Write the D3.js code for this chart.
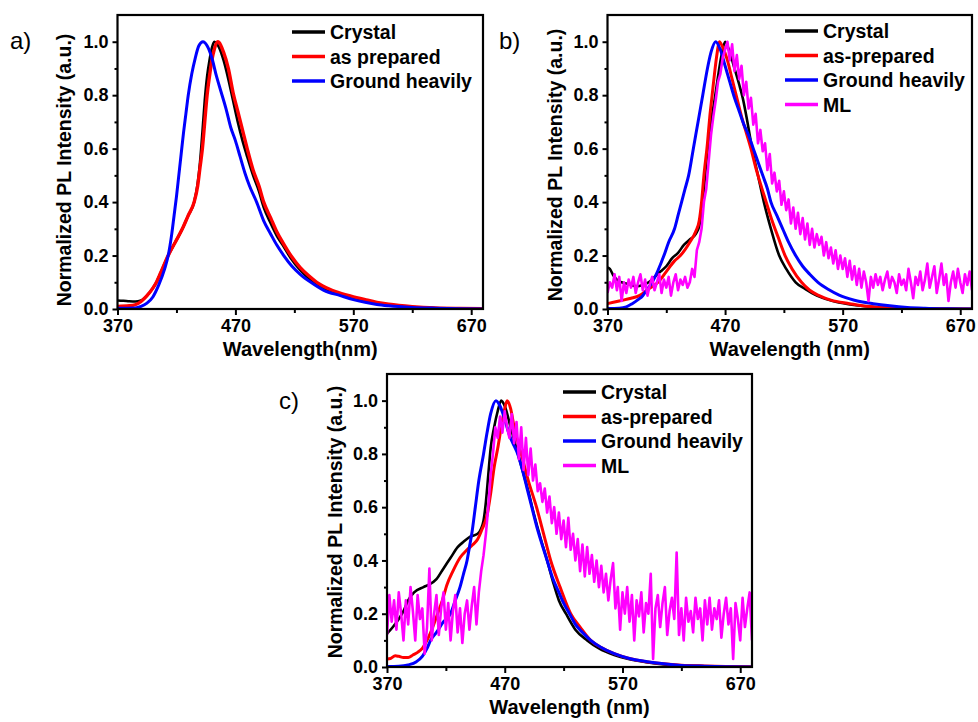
<!DOCTYPE html>
<html>
<head>
<meta charset="utf-8">
<script src="https://cdn.jsdelivr.net/npm/d3@7"></script>
<style>
  html, body { margin: 0; padding: 0; background: #fff; }
  svg { display: block; }
  text { font-family: "Liberation Sans", Arial, sans-serif; }
</style>
</head>
<body>
<svg id="chart" width="978" height="722"></svg>
<script>
// ---------- tick labels ----------
const xTickValues = [370, 470, 570, 670];
const xMinorValues = [420, 520, 620];
const yTickValues = [0.0, 0.2, 0.4, 0.6, 0.8, 1.0];
const yMinorValues = [0.1, 0.3, 0.5, 0.7, 0.9];
const xDomain = [370, 680];
const yDomain = [0, 1.1];

const seriesColors = { crystal: "#000000", prepared: "#ff0000", ground: "#0000ff", ml: "#ff00ff" };

// ---------- panel a ----------
const aCrystalX = [370,375,380,385,390,395,400,403,408,413,419,425,430,435,438,440,442,444,446,448,450,452,456,460,464,468,472,476,480,485,490,494,500,505,510,517,525,532,539,550,560,568,580,590,600,620,640,660,680];
const aCrystalY = [0.032,0.031,0.029,0.028,0.032,0.05,0.078,0.1,0.15,0.2,0.25,0.3,0.35,0.4,0.47,0.55,0.66,0.78,0.87,0.93,0.975,1.0,0.98,0.93,0.86,0.78,0.7,0.63,0.57,0.5,0.44,0.38,0.32,0.275,0.24,0.19,0.145,0.115,0.092,0.067,0.051,0.041,0.03,0.021,0.015,0.007,0.003,0.001,0.0];
const aPreparedX = [370,380,385,390,395,400,403,408,413,419,425,430,435,438,440,442,444,446,448,450,452,455,460,464,468,472,476,480,485,490,494,500,505,510,517,525,532,539,550,560,568,580,590,600,620,640,660,680];
const aPreparedY = [0.01,0.012,0.016,0.028,0.05,0.078,0.1,0.15,0.2,0.25,0.3,0.35,0.4,0.46,0.53,0.6,0.7,0.8,0.87,0.93,0.97,1.0,0.96,0.9,0.81,0.74,0.67,0.6,0.52,0.46,0.4,0.34,0.29,0.25,0.2,0.155,0.125,0.1,0.074,0.058,0.048,0.035,0.025,0.018,0.009,0.004,0.002,0.001];
const aGroundX = [370,385,390,395,400,405,410,413,416,418,420,422,424,426,428,430,433,436,439,442.5,446,450,454,458,462,466,470,474,478,482,488,494,500,505,511,518,525,534,545,559,570,580,590,600,620,640,660,680];
const aGroundY = [0.003,0.004,0.01,0.022,0.045,0.09,0.15,0.2,0.28,0.35,0.42,0.5,0.58,0.66,0.73,0.8,0.88,0.94,0.985,1.0,0.985,0.94,0.87,0.81,0.75,0.68,0.63,0.57,0.51,0.46,0.4,0.33,0.28,0.24,0.2,0.16,0.13,0.1,0.07,0.05,0.035,0.025,0.017,0.012,0.006,0.003,0.001,0.0];

// ---------- panel b ----------
const bCrystalX = [370,372,375,378,382,386,390,395,400,405,410,415,420,425,430,435,440,445,448,450,452,454,456,458,461,464,467,470,474,478,482,485,489,493,498,503,509,516,522,530,538,548,560,575,590,605,625,650,680];
const bCrystalY = [0.155,0.15,0.125,0.11,0.1,0.095,0.09,0.085,0.09,0.1,0.12,0.14,0.16,0.19,0.21,0.24,0.26,0.28,0.31,0.36,0.45,0.55,0.63,0.7,0.78,0.87,0.95,1.0,0.96,0.9,0.84,0.79,0.7,0.6,0.5,0.4,0.3,0.2,0.15,0.1,0.075,0.05,0.032,0.018,0.01,0.005,0.002,0.001,0.0];
const bPreparedX = [370,380,390,397,405,413,420,427,432,440,445,448,450,452,455,457,459,461,463,465,468,472,476,480,484,488,492,496,500,505,510,515,521,527,535,542,550,560,576,590,605,624,650,680];
const bPreparedY = [0.02,0.03,0.04,0.05,0.075,0.1,0.14,0.18,0.2,0.25,0.29,0.33,0.4,0.5,0.62,0.72,0.8,0.88,0.95,1.0,0.98,0.93,0.86,0.79,0.72,0.66,0.6,0.53,0.47,0.4,0.33,0.27,0.2,0.15,0.1,0.07,0.05,0.033,0.02,0.01,0.005,0.002,0.001,0.0];
const bGroundX = [370,380,386,391,396,400,404,408,413,418,422,427,430,433,436,439,443,447,451,455,458,462,466,470,474,478,482,486,490,494,498,502,506,509,514,519,524,530,536,542,549,558,567,580,596,610,625,640,660,680];
const bGroundY = [0.002,0.003,0.008,0.02,0.035,0.05,0.075,0.1,0.145,0.2,0.25,0.3,0.35,0.4,0.45,0.5,0.6,0.7,0.8,0.9,0.96,1.0,0.97,0.91,0.85,0.79,0.74,0.69,0.65,0.6,0.55,0.5,0.45,0.4,0.35,0.3,0.25,0.2,0.16,0.13,0.1,0.073,0.052,0.033,0.02,0.012,0.006,0.003,0.001,0.0];
// ML, sampled every 2 nm from 370 nm to 680 nm (10 values per row)
const bML = [
  0.06,0.1,0.08,0.13,0.07,0.12,0.03,0.1,0.06,0.11,   // 370-388
  0.08,0.12,0.06,0.1,0.13,0.07,0.11,0.05,0.09,0.12,  // 390-408
  0.07,0.1,0.13,0.06,0.11,0.08,0.12,0.05,0.1,0.13,   // 410-428
  0.07,0.11,0.09,0.12,0.08,0.1,0.15,0.12,0.22,0.25,  // 430-448
  0.3,0.4,0.45,0.55,0.65,0.72,0.78,0.85,0.88,0.94,   // 450-468
  0.97,1.0,0.93,0.99,0.89,0.95,0.86,0.91,0.8,0.85,   // 470-488
  0.75,0.79,0.69,0.73,0.62,0.67,0.59,0.62,0.52,0.58, // 490-508
  0.47,0.51,0.44,0.48,0.39,0.44,0.37,0.41,0.32,0.38, // 510-528
  0.3,0.36,0.28,0.34,0.26,0.32,0.24,0.3,0.23,0.28,   // 530-548
  0.24,0.27,0.2,0.25,0.19,0.23,0.17,0.22,0.15,0.2,   // 550-568
  0.15,0.19,0.12,0.18,0.11,0.16,0.09,0.15,0.08,0.14, // 570-588
  0.1,0.03,0.12,0.08,0.13,0.09,0.12,0.07,0.11,0.14,  // 590-608
  0.08,0.12,0.1,0.06,0.13,0.09,0.11,0.07,0.15,0.1,   // 610-628
  0.04,0.12,0.09,0.14,0.07,0.11,0.17,0.08,0.12,0.16, // 630-648
  0.06,0.11,0.17,0.09,0.13,0.03,0.1,0.14,0.08,0.15,  // 650-668
  0.1,0.06,0.13,0.09,0.14,0.07                       // 670-680
];

// ---------- panel c ----------
const cCrystalX = [370,375,380,384,388,393,401,406,412,418,424,430,435,441,447,450,452,454,456,458,461,464,467,470,475,480,485,490,495,500,506,511,516,522,530,540,550,563,575,590,605,620,640,660,680];
const cCrystalY = [0.125,0.15,0.18,0.21,0.25,0.28,0.3,0.31,0.33,0.37,0.41,0.45,0.47,0.49,0.5,0.52,0.55,0.62,0.72,0.82,0.9,0.96,1.0,0.98,0.9,0.82,0.74,0.66,0.57,0.49,0.4,0.32,0.25,0.2,0.14,0.1,0.07,0.045,0.03,0.018,0.01,0.006,0.003,0.001,0.0];
const cPreparedX = [370,373,377,380,384,388,392,396,400,404,408,413,417,421,426,432,438,443,447,451,455,458,461,464,467,470,472,475,478,484,490,497,503,509,517,526,534,543,552,563,575,590,605,620,640,660,680];
const cPreparedY = [0.03,0.032,0.042,0.04,0.036,0.036,0.045,0.055,0.07,0.1,0.14,0.2,0.25,0.31,0.36,0.41,0.44,0.46,0.48,0.52,0.57,0.65,0.75,0.82,0.9,0.97,1.0,0.97,0.9,0.8,0.7,0.6,0.5,0.4,0.3,0.2,0.15,0.1,0.073,0.05,0.033,0.02,0.012,0.007,0.004,0.002,0.001];
const cGroundX = [370,380,388,395,400,404,407,412,418,424,428,432,435,438,440,442,445,448,452,455,458,462.5,466,470,474,478,481,485,489,493,497,501,506,511,516,520,525,530,536,543,552,563,575,591,605,620,640,660,680];
const cGroundY = [0.002,0.003,0.008,0.02,0.04,0.07,0.1,0.13,0.17,0.2,0.25,0.3,0.35,0.4,0.45,0.5,0.6,0.7,0.8,0.88,0.95,1.0,0.98,0.93,0.87,0.83,0.8,0.74,0.67,0.6,0.53,0.47,0.4,0.33,0.28,0.24,0.2,0.16,0.13,0.1,0.073,0.05,0.033,0.02,0.012,0.006,0.003,0.001,0.0];
// ML, sampled every 2 nm from 370 nm to 680 nm (10 values per row)
const cML = [
  0.12,0.27,0.17,0.25,0.14,0.28,0.2,0.1,0.25,0.16,   // 370-388
  0.3,0.21,0.1,0.27,0.18,0.22,0.05,0.15,0.37,0.1,    // 390-408
  0.2,0.27,0.12,0.22,0.28,0.14,0.24,0.1,0.21,0.27,   // 410-428
  0.13,0.22,0.09,0.2,0.25,0.14,0.23,0.3,0.16,0.28,   // 430-448
  0.36,0.42,0.5,0.6,0.72,0.8,0.9,0.86,0.94,0.88,     // 450-468
  0.96,0.9,0.86,0.95,0.84,0.92,0.78,0.9,0.74,0.86,   // 470-488
  0.72,0.82,0.7,0.76,0.66,0.69,0.62,0.67,0.58,0.64,  // 490-508
  0.54,0.6,0.5,0.58,0.48,0.55,0.45,0.56,0.44,0.5,    // 510-528
  0.4,0.48,0.36,0.46,0.34,0.45,0.35,0.42,0.32,0.4,   // 530-548
  0.3,0.38,0.28,0.35,0.25,0.33,0.39,0.22,0.3,0.14,   // 550-568
  0.28,0.2,0.3,0.17,0.27,0.1,0.25,0.19,0.28,0.13,    // 570-588
  0.24,0.2,0.35,0.03,0.22,0.27,0.15,0.24,0.3,0.12,   // 590-608
  0.21,0.26,0.18,0.43,0.12,0.22,0.1,0.26,0.17,0.21,  // 610-628
  0.13,0.26,0.18,0.22,0.1,0.25,0.16,0.26,0.14,0.22,  // 630-648
  0.18,0.25,0.11,0.2,0.26,0.16,0.22,0.03,0.24,0.18,  // 650-668
  0.1,0.26,0.15,0.22,0.28,0.1                        // 670-680
];
const mlStart = 370, mlStep = 2;

// ---------- drawing ----------
const svg = d3.select("#chart");

function zip(xs, ys) { return xs.map((x, i) => [x, ys[i]]); }
function mlPoints(vals) { return vals.map((v, i) => [mlStart + i * mlStep, v]); }

const panels = [
  { id: "a", label: "a)", lx: 10, ly: 49, box: { l: 117.5, r: 483, t: 15, b: 309 },
    xTitle: "Wavelength(nm)", yTitleCx: 64, yTitleCy: 170,
    legend: ["Crystal", "as prepared", "Ground heavily"],
    legX: 292, legY: 32, legDy: 24.5,
    series: [
      { key: "crystal", pts: zip(aCrystalX, aCrystalY), w: 2.6 },
      { key: "prepared", pts: zip(aPreparedX, aPreparedY), w: 3.4 },
      { key: "ground", pts: zip(aGroundX, aGroundY), w: 3 }
    ] },
  { id: "b", label: "b)", lx: 499, ly: 49, box: { l: 607.5, r: 972, t: 15, b: 309 },
    xTitle: "Wavelength (nm)", yTitleCx: 555, yTitleCy: 165,
    legend: ["Crystal", "as-prepared", "Ground heavily", "ML"],
    legX: 785, legY: 31, legDy: 24.5,
    series: [
      { key: "crystal", pts: zip(bCrystalX, bCrystalY), w: 2.6 },
      { key: "prepared", pts: zip(bPreparedX, bPreparedY), w: 3 },
      { key: "ground", pts: zip(bGroundX, bGroundY), w: 3 },
      { key: "ml", pts: mlPoints(bML), w: 2.6, raw: true }
    ] },
  { id: "c", label: "c)", lx: 279, ly: 409, box: { l: 387, r: 752, t: 374, b: 667 },
    xTitle: "Wavelength (nm)", yTitleCx: 335, yTitleCy: 522,
    legend: ["Crystal", "as-prepared", "Ground heavily", "ML"],
    legX: 563, legY: 392, legDy: 24.5,
    series: [
      { key: "crystal", pts: zip(cCrystalX, cCrystalY), w: 2.6 },
      { key: "prepared", pts: zip(cPreparedX, cPreparedY), w: 3 },
      { key: "ground", pts: zip(cGroundX, cGroundY), w: 3 },
      { key: "ml", pts: mlPoints(cML), w: 2.6, raw: true }
    ] }
];

const legendKeys = { "Crystal": "crystal", "as prepared": "prepared", "as-prepared": "prepared", "Ground heavily": "ground", "ML": "ml" };

panels.forEach(p => {
  const { l, r, t, b } = p.box;
  const x = d3.scaleLinear().domain(xDomain).range([l, r]);
  const y = d3.scaleLinear().domain(yDomain).range([b, t]);
  const g = svg.append("g").attr("class", "panel-" + p.id);

  g.append("clipPath").attr("id", "clip-" + p.id)
    .append("rect").attr("x", l).attr("y", t).attr("width", r - l).attr("height", b - t);

  const lines = g.append("g").attr("clip-path", `url(#clip-${p.id})`);
  p.series.forEach(s => {
    const gen = d3.line().x(d => x(d[0])).y(d => y(d[1]))
      .curve(s.raw ? d3.curveLinear : d3.curveMonotoneX);
    lines.append("path").attr("d", gen(s.pts))
      .attr("fill", "none").attr("stroke", seriesColors[s.key])
      .attr("stroke-width", s.w).attr("stroke-linejoin", "round");
  });

  const xAxis = d3.axisBottom(x).tickValues(xTickValues).tickSize(6).tickPadding(4).tickFormat(d3.format("d"));
  const xMinor = d3.axisBottom(x).tickValues(xMinorValues).tickSize(4).tickFormat("");
  const yAxis = d3.axisLeft(y).tickValues(yTickValues).tickSize(5).tickPadding(4).tickFormat(d3.format(".1f"));
  const yMinor = d3.axisLeft(y).tickValues(yMinorValues).tickSize(3).tickFormat("");

  [xAxis, xMinor].forEach(ax => {
    const ag = g.append("g").attr("transform", `translate(0,${b})`).call(ax);
    ag.select(".domain").remove();
    ag.selectAll("line").attr("stroke", "#000").attr("stroke-width", 2);
    ag.selectAll("text").attr("font-size", 18).attr("font-weight", "bold").attr("fill", "#000")
      .attr("font-family", "'Liberation Sans', Arial, sans-serif");
  });
  [yAxis, yMinor].forEach(ax => {
    const ag = g.append("g").attr("transform", `translate(${l},0)`).call(ax);
    ag.select(".domain").remove();
    ag.selectAll("line").attr("stroke", "#000").attr("stroke-width", 2);
    ag.selectAll("text").attr("font-size", 18).attr("font-weight", "bold").attr("fill", "#000")
      .attr("font-family", "'Liberation Sans', Arial, sans-serif");
  });

  g.append("rect").attr("x", l).attr("y", t).attr("width", r - l).attr("height", b - t)
    .attr("fill", "none").attr("stroke", "#000").attr("stroke-width", 2.2);

  g.append("text").attr("x", (l + r) / 2).attr("y", b + 47)
    .attr("text-anchor", "middle").attr("font-size", 20).attr("font-weight", "bold")
    .text(p.xTitle);
  g.append("text").attr("transform", `translate(${p.yTitleCx + 7},${p.yTitleCy}) rotate(-90)`)
    .attr("text-anchor", "middle").attr("font-size", 19.5).attr("font-weight", "bold")
    .text("Normalized PL Intensity (a.u.)");

  g.append("text").attr("x", p.lx).attr("y", p.ly)
    .attr("font-family", "'Open Sans', sans-serif").attr("font-size", 24)
    .text(p.label);

  const lg = g.append("g");
  p.legend.forEach((name, i) => {
    const yy = p.legY + i * p.legDy;
    lg.append("line").attr("x1", p.legX).attr("x2", p.legX + 33).attr("y1", yy).attr("y2", yy)
      .attr("stroke", seriesColors[legendKeys[name]]).attr("stroke-width", 3.5);
    lg.append("text").attr("x", p.legX + 38).attr("y", yy + 7)
      .attr("font-size", 19.5).attr("font-weight", "bold").text(name);
  });
});
</script>
</body>
</html>
